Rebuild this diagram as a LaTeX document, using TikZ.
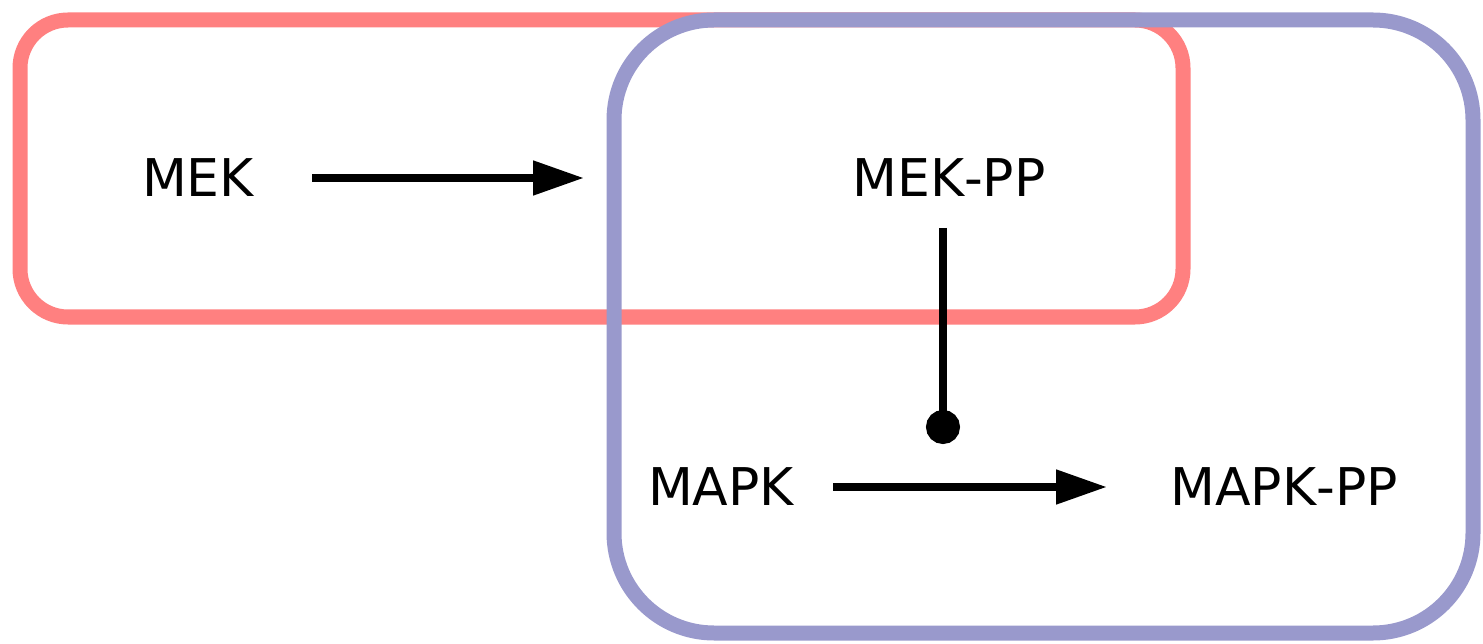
\documentclass[tikz,border=0pt]{standalone}
\usepackage{fontspec}
\setmainfont[Kerning=Off]{DejaVu Sans}
\usetikzlibrary{arrows.meta}
\definecolor{boxred}{HTML}{FF8080}
\definecolor{boxblue}{HTML}{9999CC}
\begin{document}
\begin{tikzpicture}[x=1pt,y=-1pt,
  lbl/.style={inner sep=0pt,font=\fontsize{52}{60}\selectfont},
  grp/.style={line width=15pt},
  arr/.style={line width=8pt,-{Triangle[length=51pt,width=33pt]}},
  inh/.style={line width=8pt,-{Circle[length=34pt]}}]
\useasboundingbox (0,0) rectangle (1483,644);
\draw[grp,boxred,rounded corners=48pt] (20,20) rectangle (1183,317);
\draw[grp,boxblue,rounded corners=100pt] (614,20) rectangle (1473,633);
\node[lbl] (mek) at (198,178) {MEK};
\node[lbl] (mekpp) at (949,178) {MEK-PP};
\node[lbl] (mapk) at (721,487) {MAPK};
\node[lbl] (mappp) at (1284,487) {MAPK-PP};
\coordinate (mekR) at (312,178);
\coordinate (mekppL) at (584,178);
\coordinate (mekppB) at (943,228);
\coordinate (catal) at (943,444);
\coordinate (mapkR) at (833,487);
\coordinate (mapkppL) at (1107,487);
\draw[arr] (mekR) -- (mekppL);
\draw[arr] (mapkR) -- (mapkppL);
\draw[inh] (mekppB) -- (catal);
\end{tikzpicture}
\end{document}
